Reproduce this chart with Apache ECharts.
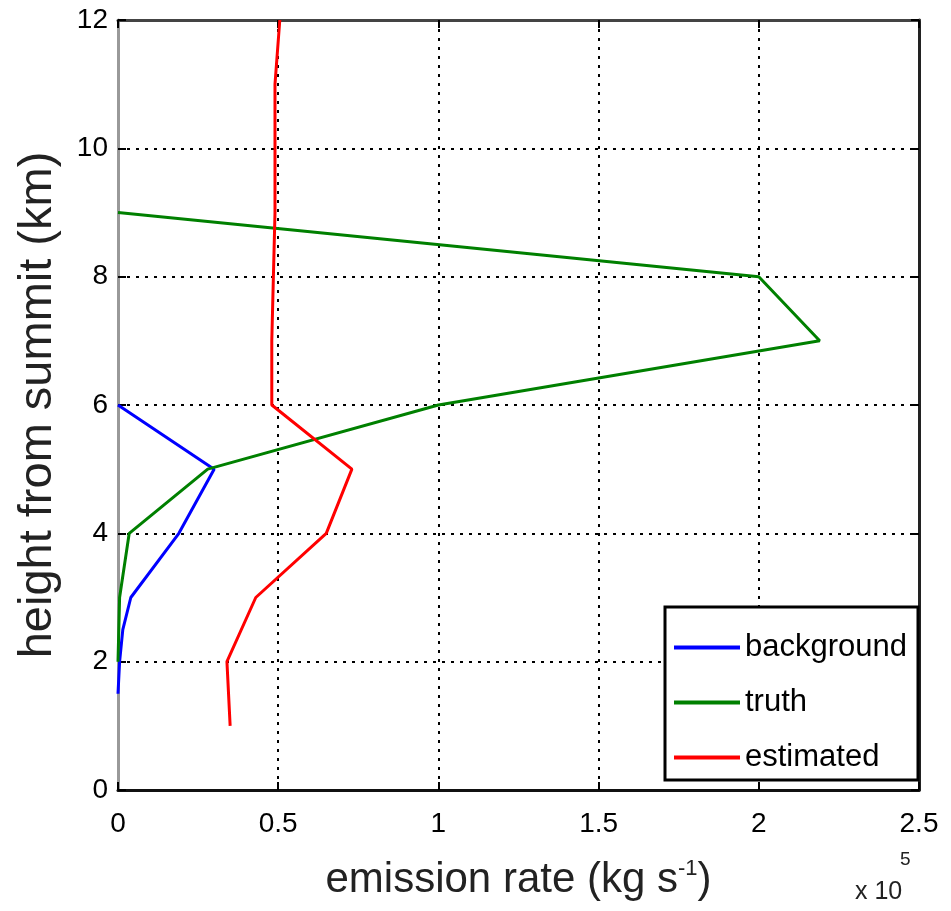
<!DOCTYPE html>
<html>
<head>
<meta charset="utf-8">
<script src="https://cdn.jsdelivr.net/npm/echarts@6/dist/echarts.min.js"></script>
<style>
  html, body { margin: 0; padding: 0; background: #fff; }
  #main { width: 951px; height: 911px; }
</style>
</head>
<body>
<div id="main"></div>
<script>
// emission rates in units of 1e5 kg/s, heights in km
var bgHeights = [6, 5, 4, 3, 2.5, 2, 1.5];
var bgRates = [0, 0.30, 0.19, 0.04, 0.015, 0.005, 0];

var truthHeights = [9, 8, 7, 6, 5, 4, 3, 2];
var truthRates = [0, 2.0, 2.19, 1.0, 0.28, 0.035, 0.005, 0];

var estHeights = [12, 11, 10, 9, 8, 7, 6, 5, 4, 3, 2, 1];
var estRates = [0.505, 0.49, 0.49, 0.49, 0.485, 0.48, 0.48, 0.73, 0.65, 0.43, 0.34, 0.35];

var xTicks = ['0', '0.5', '1', '1.5', '2', '2.5'];

var FONT = "'Liberation Sans', Arial, sans-serif";

function pairs(xs, ys) {
    var out = [];
    for (var i = 0; i < xs.length; i++) out.push([xs[i], ys[i]]);
    return out;
}

var chart = echarts.init(document.getElementById('main'));

var option = {
    backgroundColor: '#fff',
    animation: false,
    grid: { left: 118, right: 32, top: 20, bottom: 121, containLabel: false },
    legend: {
        z: 20,
        orient: 'vertical',
        left: 669,
        top: 627,
        icon: 'rect',
        itemWidth: 66,
        itemHeight: 4,
        itemGap: 24,
        textStyle: { fontFamily: FONT, fontSize: 31, color: '#000' },
        data: ['background', 'truth', 'estimated']
    },
    xAxis: [{
        type: 'value',
        min: 0, max: 2.5, interval: 0.5,
        position: 'bottom',
        axisLine: { show: true, onZero: false, lineStyle: { color: '#111', width: 3 } },
        axisTick: { show: true, inside: true, length: 8, lineStyle: { color: '#000', width: 2 } },
        axisLabel: {
            margin: 20, fontFamily: FONT, fontSize: 28, color: '#000',
            formatter: function (v) { return xTicks[Math.round(v / 0.5)]; }
        },
        splitLine: { show: true, lineStyle: { color: '#000', type: [3, 6], width: 2 } },
        name: '{a|emission rate (kg s}{s|-1}{a|)}',
        nameLocation: 'middle',
        nameGap: 68,
        nameTextStyle: {
            rich: {
                a: { fontFamily: FONT, fontSize: 42, color: '#222' },
                s: { fontFamily: FONT, fontSize: 22, color: '#222', verticalAlign: 'top', padding: [0, 0, 22, 0] }
            }
        }
    }, {
        type: 'value',
        min: 0, max: 2.5, interval: 0.5,
        position: 'top',
        axisLine: { show: true, onZero: false, lineStyle: { color: '#444', width: 3 } },
        axisTick: { show: true, inside: true, length: 8, lineStyle: { color: '#000', width: 2 } },
        axisLabel: { show: false },
        splitLine: { show: false }
    }],
    yAxis: [{
        type: 'value',
        min: 0, max: 12, interval: 2,
        position: 'left',
        axisLine: { show: true, onZero: false, lineStyle: { color: '#999', width: 3 } },
        axisTick: { show: true, inside: true, length: 8, lineStyle: { color: '#000', width: 2 } },
        axisLabel: { margin: 10, fontFamily: FONT, fontSize: 28, color: '#000' },
        splitLine: { show: true, lineStyle: { color: '#000', type: [3, 6], width: 2 } },
        name: 'height from summit (km)',
        nameLocation: 'middle',
        nameGap: 56,
        nameTextStyle: { fontFamily: FONT, fontSize: 47, color: '#222' }
    }, {
        type: 'value',
        min: 0, max: 12, interval: 2,
        position: 'right',
        axisLine: { show: true, onZero: false, lineStyle: { color: '#222', width: 3 } },
        axisTick: { show: true, inside: true, length: 8, lineStyle: { color: '#000', width: 2 } },
        axisLabel: { show: false },
        splitLine: { show: false }
    }],
    graphic: [
        {
            type: 'rect',
            z: 5,
            shape: { x: 665, y: 607, width: 253, height: 173 },
            style: { fill: '#fff', stroke: '#000', lineWidth: 3 }
        },
        {
            type: 'text',
            left: 855,
            top: 880,
            style: { text: 'x 10', fontFamily: FONT, fontSize: 25, fill: '#222' }
        },
        {
            type: 'text',
            left: 900,
            top: 850,
            style: { text: '5', fontFamily: FONT, fontSize: 19, fill: '#222' }
        }
    ],
    series: [
        {
            name: 'background',
            type: 'line',
            symbol: 'none',
            z: 3,
            lineStyle: { color: '#0000ff', width: 3 },
            itemStyle: { color: '#0000ff' },
            data: pairs(bgRates, bgHeights)
        },
        {
            name: 'truth',
            type: 'line',
            symbol: 'none',
            z: 3,
            lineStyle: { color: '#008000', width: 3 },
            itemStyle: { color: '#008000' },
            data: pairs(truthRates, truthHeights)
        },
        {
            name: 'estimated',
            type: 'line',
            symbol: 'none',
            z: 3,
            lineStyle: { color: '#ff0000', width: 3 },
            itemStyle: { color: '#ff0000' },
            data: pairs(estRates, estHeights)
        }
    ]
};

chart.setOption(option);
</script>
</body>
</html>
